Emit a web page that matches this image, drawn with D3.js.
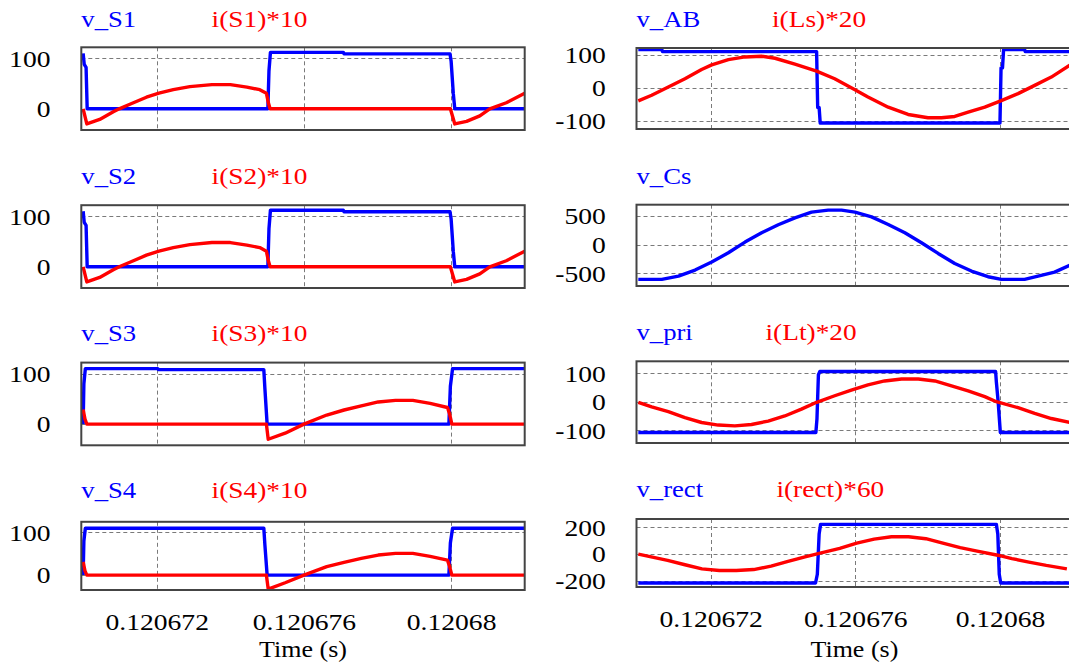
<!DOCTYPE html>
<html>
<head>
<meta charset="utf-8">
<script src="https://cdn.jsdelivr.net/npm/d3@7"></script>
<style>
  html, body { margin: 0; padding: 0; background: #ffffff; overflow: hidden; }
  svg { display: block; }
  text { font-family: "Liberation Serif", "Times New Roman", serif; }
</style>
</head>
<body>
<svg id="chart" width="1069" height="668"></svg>
<script>
// ---------------- DATA (time in µs after T0 seconds) ----------------
const T0 = 0.12067;
const xTickLabels = [0.120672, 0.120676, 0.12068];

// v_S1 / i(S1)*10
const tVS1 = [0, 0.03, 0.08, 0.11, 5.02, 5.05, 5.09, 7.07, 7.09, 9.97, 10.0, 10.06, 10.1, 12.0];
const vS1  = [110, 88, 82, 0, 0, 75, 112, 112, 109, 109, 95, 30, 0, 0];
const tIS1 = [0, 0.1, 0.45, 0.82, 0.98, 1.27, 1.72, 2.06, 2.45, 2.9, 3.5, 4.0, 4.45, 4.8, 4.98, 5.03, 5.08, 9.98, 10.1, 10.42, 10.78, 11.05, 11.5, 12.0];
const iS1  = [0, -30, -21, -6, 0, 9, 23, 31, 38, 44, 48, 48, 43, 38, 31, 13, 0, 0, -30, -25, -14, 0, 12, 31];

// v_S2 / i(S2)*10
const tVS2 = [0, 0.03, 0.08, 0.11, 5.02, 5.05, 5.09, 7.07, 7.09, 9.97, 10.0, 10.06, 10.1, 12.0];
const vS2  = [110, 88, 82, 0, 0, 75, 112, 112, 109, 109, 95, 30, 0, 0];
const tIS2 = [0, 0.1, 0.45, 0.82, 0.98, 1.27, 1.72, 2.06, 2.45, 2.9, 3.5, 4.0, 4.45, 4.8, 4.98, 5.03, 5.08, 9.98, 10.1, 10.42, 10.78, 11.05, 11.5, 12.0];
const iS2  = [0, -30, -21, -6, 0, 9, 23, 31, 38, 44, 48, 48, 43, 38, 31, 13, 0, 0, -30, -25, -14, 0, 12, 31];

// v_S3 / i(S3)*10
const tVS3 = [0, 0.02, 0.06, 2.03, 2.05, 4.91, 4.94, 5.0, 9.94, 9.98, 10.04, 12.0];
const vS3  = [0, 80, 110, 110, 108, 108, 70, 0, 0, 75, 110, 110];
const tIS3 = [0, 0.05, 0.1, 4.98, 5.03, 5.49, 6.0, 6.62, 7.09, 7.56, 8.02, 8.49, 8.96, 9.43, 9.9, 9.96, 10.02, 12.0];
const iS3  = [29, 10, 0, 0, -30, -18, 0, 18, 28, 36, 44, 47, 47, 41, 33, 20, 0, 0];

// v_S4 / i(S4)*10
const tVS4 = [0, 0.02, 0.06, 4.91, 4.94, 5.0, 9.94, 9.98, 10.04, 12.0];
const vS4  = [0, 80, 110, 110, 70, 0, 0, 75, 110, 110];
const tIS4 = [0, 0.05, 0.1, 4.98, 5.03, 5.49, 6.0, 6.62, 7.09, 7.56, 8.02, 8.49, 8.96, 9.43, 9.9, 9.96, 10.02, 12.0];
const iS4  = [31, 10, 0, 0, -33, -18, 0, 20, 30, 39, 47, 51, 51, 44, 35, 20, 0, 0];

// v_AB / i(Ls)*20
const tVAB = [0, 0.65, 0.67, 4.93, 4.96, 5.0, 5.03, 10.0, 10.03, 10.07, 10.1, 10.68, 10.7, 12.0];
const vAB  = [115, 115, 109, 109, -60, -60, -107, -107, 60, 60, 115, 115, 109, 109];
const tILs = [0, 0.37, 0.83, 1.29, 1.75, 2.03, 2.49, 2.95, 3.41, 3.78, 4.33, 4.93, 5.43, 5.99, 6.35, 6.91, 7.46, 8.01, 8.38, 8.75, 9.12, 9.58, 10.02, 10.5, 10.96, 11.42, 11.93];
const iLs  = [-40, -23, 2, 27, 55, 69, 85, 93, 95, 89, 71, 50, 27, -6, -28, -59, -81, -91, -91, -87, -74, -59, -40, -18, 7, 32, 68];

// v_Cs
const tVCs = [0, 0.65, 1.11, 1.57, 2.03, 2.49, 2.95, 3.41, 3.87, 4.33, 4.79, 5.25, 5.62, 5.99, 6.45, 6.91, 7.37, 7.83, 8.29, 8.75, 9.21, 9.67, 10.04, 10.68, 11.14, 11.51, 11.93];
const vCs  = [-605, -605, -547, -442, -302, -140, 47, 209, 349, 471, 570, 605, 605, 570, 488, 355, 209, 35, -151, -326, -459, -558, -605, -605, -535, -477, -360];

// v_pri / i(Lt)*20
const tVPri = [0, 4.91, 4.94, 4.98, 5.02, 9.88, 9.9, 9.95, 10.01, 12.0];
const vPri  = [-108, -108, -60, 95, 106, 106, 70, 0, -108, -108];
const tILt  = [0, 0.37, 0.83, 1.29, 1.75, 2.21, 2.67, 3.13, 3.59, 4.05, 4.51, 4.93, 5.43, 5.89, 6.35, 6.81, 7.28, 7.74, 8.2, 8.66, 9.12, 9.58, 9.9, 10.5, 10.96, 11.42, 11.93];
const iLt   = [-2, -18, -35, -56, -73, -82, -85, -80, -68, -50, -26, -2, 21, 41, 59, 73, 80, 80, 73, 56, 38, 18, 0, -21, -41, -59, -73];

// v_rect / i(rect)*60
const tVRect = [0, 4.9, 4.95, 5.0, 5.04, 9.9, 9.94, 9.98, 10.02, 12.0];
const vRect  = [-215, -215, -150, 150, 222, 222, 150, -150, -215, -215];
const tIRect = [0, 0.81, 1.29, 1.76, 2.24, 2.71, 3.19, 3.67, 4.14, 4.61, 5.0, 5.57, 6.04, 6.52, 7.0, 7.47, 7.95, 8.42, 8.9, 9.37, 9.94, 10.33, 10.8, 11.28, 11.85];
const iRect  = [0, -46, -79, -110, -122, -122, -115, -89, -54, -20, 5, 43, 82, 112, 130, 130, 115, 82, 48, 23, -8, -33, -59, -84, -110];

// Labels / y ticks
const titlesBlue = ["v_S1", "v_S2", "v_S3", "v_S4", "v_AB", "v_Cs", "v_pri", "v_rect"];
const titlesRed  = ["i(S1)*10", "i(S2)*10", "i(S3)*10", "i(S4)*10", "i(Ls)*20", "", "i(Lt)*20", "i(rect)*60"];
const yTicksL = [0, 100];
const yTicksAB = [-100, 0, 100];
const yTicksCs = [-500, 0, 500];
const yTicksPri = [-100, 0, 100];
const yTicksRect = [-200, 0, 200];
const xAxisTitle = "Time (s)";

// ---------------- LAYOUT ----------------
const BLUE = "#0000ff", RED = "#ff0000";
const FS = 23, SX = 1.2;
const colL = { x0: 81.3, x1: 524.7, lab: 50.5 };
const colR = { x0: 636.5, x1: 1072.3, lab: 605.8 };

const zip = (ts, vs) => ts.map((t, i) => ({ t: t, v: vs[i] }));

const panels = [
  { col: colL, top: 47.3, bot: 130,   dom: [-42, 122], ticks: yTicksL, blue: zip(tVS1, vS1), red: zip(tIS1, iS1), tb: 26.6, redX: 211.6 },
  { col: colL, top: 205.2, bot: 288,  dom: [-42, 122], ticks: yTicksL, blue: zip(tVS2, vS2), red: zip(tIS2, iS2), tb: 184, redX: 211.6 },
  { col: colL, top: 362.6, bot: 445.3, dom: [-42, 122], ticks: yTicksL, blue: zip(tVS3, vS3), red: zip(tIS3, iS3), tb: 341, redX: 211.6 },
  { col: colL, top: 521.8, bot: 590,  dom: [-35, 125], ticks: yTicksL, blue: zip(tVS4, vS4), red: zip(tIS4, iS4), tb: 497.5, redX: 211.6, bottom: true },
  { col: colR, top: 48, bot: 129,     dom: [-125, 120], ticks: yTicksAB, blue: zip(tVAB, vAB), red: zip(tILs, iLs), tb: 27.3, redX: 772 },
  { col: colR, top: 204.7, bot: 286,  dom: [-720, 700], ticks: yTicksCs, blue: zip(tVCs, vCs), red: null, tb: 184, redX: 772 },
  { col: colR, top: 361.3, bot: 443,  dom: [-145, 142], ticks: yTicksPri, blue: zip(tVPri, vPri), red: zip(tILt, iLt), tb: 340, redX: 765.5 },
  { col: colR, top: 519, bot: 587,    dom: [-245, 262], ticks: yTicksRect, blue: zip(tVRect, vRect), red: zip(tIRect, iRect), tb: 497, redX: 776.4, bottom: true }
];

const svg = d3.select("#chart");

function stretchText(sel, x, y, s, anchor, color, sx) {
  sel.append("text")
    .attr("transform", `translate(${x},${y}) scale(${sx},1)`)
    .attr("text-anchor", anchor)
    .attr("font-size", FS)
    .attr("fill", color)
    .text(s);
}

panels.forEach((p, k) => {
  const c = p.col;
  const x = d3.scaleLinear().domain([T0 - 0.05e-6, T0 + 12e-6]).range([c.x0, c.x1]);
  const y = d3.scaleLinear().domain(p.dom).range([p.bot, p.top]);
  const g = svg.append("g");

  const clipId = "clip" + k;
  g.append("clipPath").attr("id", clipId)
    .append("rect").attr("x", c.x0).attr("y", p.top).attr("width", c.x1 - c.x0).attr("height", p.bot - p.top);

  // grid
  const grid = g.append("g").attr("stroke", "#7a7a7a").attr("stroke-width", 1).attr("stroke-dasharray", "4,3");
  grid.selectAll("line.h").data(p.ticks).enter().append("line")
    .attr("x1", c.x0).attr("x2", c.x1).attr("y1", d => Math.round(y(d)) + 0.5).attr("y2", d => Math.round(y(d)) + 0.5);
  grid.selectAll("line.v").data(xTickLabels).enter().append("line")
    .attr("y1", p.top).attr("y2", p.bot).attr("x1", d => Math.round(x(d)) + 0.5).attr("x2", d => Math.round(x(d)) + 0.5);

  // series
  const line = d3.line().x(d => x(T0 + d.t * 1e-6)).y(d => y(d.v));
  const plot = g.append("g").attr("clip-path", `url(#${clipId})`);
  plot.append("path").datum(p.blue).attr("d", line)
    .attr("fill", "none").attr("stroke", BLUE).attr("stroke-width", 3.4).attr("stroke-linejoin", "round");
  if (p.red) {
    plot.append("path").datum(p.red).attr("d", line)
      .attr("fill", "none").attr("stroke", RED).attr("stroke-width", 3.4).attr("stroke-linejoin", "round");
  }

  // frame
  g.append("rect").attr("x", c.x0).attr("y", p.top).attr("width", c.x1 - c.x0).attr("height", p.bot - p.top)
    .attr("fill", "none").attr("stroke", "#444444").attr("stroke-width", 2);

  // y axis labels
  const ya = g.append("g").attr("transform", `translate(${c.lab},0)`)
    .call(d3.axisLeft(y).tickValues(p.ticks).tickSize(0).tickPadding(0).tickFormat(d => String(d)));
  ya.select(".domain").remove();
  ya.selectAll("text").attr("x", 0).attr("dy", "0.34em")
    .attr("font-size", FS).attr("font-family", "Liberation Serif, Times New Roman, serif")
    .attr("fill", "#000").attr("transform", `scale(${SX},1)`);

  // titles
  stretchText(g, c.x0, p.tb, titlesBlue[k], "start", BLUE, 1.16);
  if (titlesRed[k]) stretchText(g, p.redX, p.tb, titlesRed[k], "start", RED, 1.19);

  // bottom x axis
  if (p.bottom) {
    const base = k < 4 ? 630 : 626.5;
    const xa = g.append("g").attr("transform", `translate(0,${base})`)
      .call(d3.axisBottom(x).tickValues(xTickLabels).tickSize(0).tickPadding(0)
        .tickFormat(d => String(+d.toFixed(6))));
    xa.select(".domain").remove();
    xa.selectAll("text").attr("y", 0).attr("dy", 0)
      .attr("font-size", FS).attr("font-family", "Liberation Serif, Times New Roman, serif")
      .attr("fill", "#000").attr("transform", `scale(${SX},1)`);
    stretchText(g, (c.x0 + c.x1) / 2, 657, xAxisTitle, "middle", "#000", 1.13);
  }
});
</script>
</body>
</html>
